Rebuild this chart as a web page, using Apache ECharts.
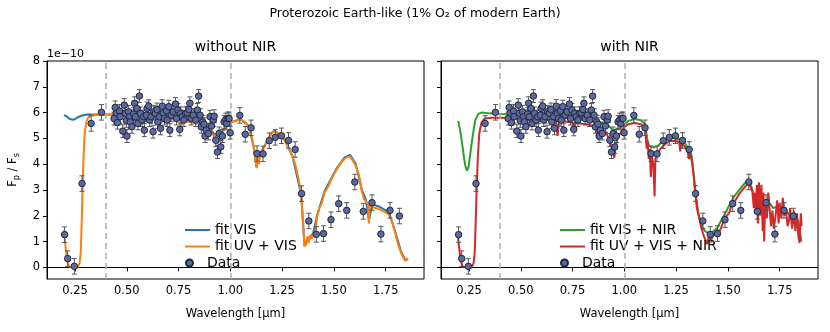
<!DOCTYPE html>
<html>
<head>
<meta charset="utf-8">
<script src="https://cdn.jsdelivr.net/npm/echarts@6/dist/echarts.min.js"></script>
<style>
  html, body { margin: 0; padding: 0; background: #fff; }
  #chart { width: 830px; height: 332px; }
</style>
</head>
<body>
<div id="chart"></div>
<script>
// observed data points: [wavelength um, Fp/Fs (1e-10), error]
const dataPoints = [
  [0.200, 1.27, 0.3], [0.215, 0.34, 0.3], [0.247, 0.04, 0.3], [0.284, 3.25, 0.3],
  [0.328, 5.58, 0.3], [0.378, 6.01, 0.3],
  [0.444, 6.20, 0.25], [0.449, 5.97, 0.25], [0.439, 5.77, 0.25], [0.455, 5.61, 0.25],
  [0.465, 6.06, 0.25], [0.468, 5.84, 0.25], [0.481, 5.28, 0.25], [0.488, 6.29, 0.25],
  [0.493, 5.97, 0.25], [0.498, 5.68, 0.25], [0.501, 5.09, 0.25], [0.509, 6.03, 0.25],
  [0.514, 5.84, 0.25], [0.517, 5.64, 0.25], [0.525, 5.45, 0.25], [0.533, 5.94, 0.25],
  [0.538, 6.36, 0.25], [0.541, 5.84, 0.25], [0.549, 6.16, 0.25], [0.554, 5.58, 0.25],
  [0.561, 6.64, 0.25], [0.566, 5.97, 0.25], [0.574, 5.71, 0.25], [0.582, 5.84, 0.25],
  [0.585, 5.32, 0.25], [0.595, 5.90, 0.25], [0.598, 6.16, 0.25], [0.606, 6.25, 0.25],
  [0.611, 5.71, 0.25], [0.617, 5.84, 0.25], [0.627, 5.26, 0.25], [0.630, 6.03, 0.25],
  [0.638, 5.97, 0.25], [0.646, 6.12, 0.25], [0.650, 5.64, 0.25], [0.659, 5.84, 0.25],
  [0.663, 5.39, 0.25], [0.671, 6.25, 0.25], [0.676, 5.97, 0.25], [0.682, 5.77, 0.25],
  [0.692, 6.07, 0.25], [0.695, 5.71, 0.25], [0.703, 6.23, 0.25], [0.708, 5.32, 0.25],
  [0.714, 5.90, 0.25], [0.724, 6.03, 0.25], [0.735, 6.33, 0.25], [0.740, 5.77, 0.25],
  [0.747, 6.10, 0.25], [0.756, 5.35, 0.25], [0.760, 5.97, 0.25], [0.768, 5.84, 0.25],
  [0.776, 5.71, 0.25], [0.784, 5.97, 0.25], [0.792, 5.99, 0.25], [0.800, 6.12, 0.25],
  [0.805, 6.36, 0.25], [0.811, 5.77, 0.25], [0.821, 5.90, 0.25], [0.833, 5.71, 0.25],
  [0.841, 6.10, 0.25], [0.847, 6.64, 0.25], [0.854, 5.90, 0.25], [0.860, 5.45, 0.25],
  [0.867, 5.64, 0.25], [0.873, 5.55, 0.25], [0.878, 5.09, 0.25], [0.884, 5.32, 0.25],
  [0.894, 5.19, 0.25], [0.902, 5.84, 0.25], [0.909, 5.48, 0.25], [0.918, 5.71, 0.25],
  [0.922, 5.86, 0.25], [0.930, 4.93, 0.25], [0.938, 4.47, 0.25], [0.946, 5.19, 0.25],
  [0.954, 4.67, 0.25], [0.962, 5.09, 0.25], [0.970, 5.64, 0.25], [0.978, 5.73, 0.25],
  [0.983, 5.58, 0.25], [0.989, 5.77, 0.25], [0.994, 5.77, 0.25], [0.999, 5.22, 0.25],
  [1.046, 5.89, 0.3], [1.072, 5.16, 0.3], [1.100, 5.41, 0.3], [1.129, 4.41, 0.3],
  [1.158, 4.40, 0.3], [1.188, 4.91, 0.3], [1.217, 5.04, 0.3], [1.247, 5.10, 0.3],
  [1.281, 4.92, 0.3], [1.313, 4.57, 0.3], [1.344, 2.86, 0.3], [1.379, 1.80, 0.3],
  [1.415, 1.28, 0.3], [1.450, 1.31, 0.3], [1.486, 1.85, 0.3], [1.523, 2.47, 0.3],
  [1.562, 2.21, 0.3], [1.601, 3.31, 0.3], [1.642, 2.17, 0.3], [1.684, 2.51, 0.3],
  [1.727, 1.29, 0.3], [1.771, 2.21, 0.3], [1.816, 1.99, 0.3]
];

// left panel fits
const fitVis = [
  [0.197, 5.90], [0.21, 5.85], [0.225, 5.75], [0.242, 5.72], [0.26, 5.80], [0.28, 5.88],
  [0.31, 5.93], [0.4, 5.93], [0.5, 5.93], [0.6, 5.91], [0.685, 5.80], [0.69, 5.72],
  [0.7, 5.79], [0.76, 5.72], [0.762, 5.47], [0.77, 5.70], [0.85, 5.58], [0.9, 5.46],
  [0.938, 4.80], [0.97, 5.37], [1.0, 5.62], [1.05, 5.74], [1.09, 5.47], [1.115, 4.58],
  [1.127, 3.90], [1.145, 4.42], [1.2, 5.22], [1.215, 5.30], [1.26, 4.97], [1.3, 4.32],
  [1.342, 2.82], [1.358, 0.85], [1.4, 1.33], [1.42, 2.05], [1.455, 2.95], [1.51, 3.80],
  [1.55, 4.25], [1.578, 4.36], [1.605, 4.02], [1.635, 3.00], [1.655, 2.62], [1.669, 1.80],
  [1.685, 2.45], [1.72, 2.35], [1.765, 2.15], [1.795, 1.42], [1.825, 0.60], [1.845, 0.28],
  [1.858, 0.32]
];
const fitUvVis = [
  [0.197, 1.44], [0.205, 0.75], [0.212, 0.25], [0.22, 0.04], [0.24, 0.0], [0.262, 0.0],
  [0.272, 0.15], [0.278, 0.6], [0.283, 1.9], [0.287, 3.2], [0.291, 4.2], [0.297, 5.2],
  [0.305, 5.65], [0.315, 5.82], [0.335, 5.9], [0.4, 5.92], [0.5, 5.92], [0.6, 5.9],
  [0.63, 5.87], [0.66, 5.82], [0.685, 5.78], [0.69, 5.70], [0.695, 5.78], [0.72, 5.74],
  [0.76, 5.70], [0.762, 5.45], [0.766, 5.68], [0.8, 5.64], [0.85, 5.56], [0.88, 5.50],
  [0.9, 5.44], [0.915, 5.25], [0.93, 4.95], [0.938, 4.78], [0.945, 4.90], [0.955, 5.10],
  [0.97, 5.35], [0.985, 5.50], [1.0, 5.60], [1.02, 5.68], [1.05, 5.72], [1.07, 5.65],
  [1.09, 5.45], [1.105, 5.0], [1.115, 4.55], [1.122, 4.1], [1.127, 3.85], [1.132, 4.3],
  [1.138, 4.0], [1.145, 4.4], [1.16, 4.6], [1.18, 4.95], [1.2, 5.2], [1.215, 5.27],
  [1.235, 5.2], [1.26, 4.95], [1.28, 4.65], [1.3, 4.3], [1.315, 3.95], [1.33, 3.4],
  [1.342, 2.8], [1.35, 1.9], [1.355, 1.2], [1.358, 0.8], [1.362, 1.05], [1.366, 0.85],
  [1.372, 1.2], [1.378, 0.95], [1.385, 1.25], [1.392, 1.1], [1.4, 1.3], [1.41, 1.4],
  [1.42, 2.0], [1.43, 2.3], [1.44, 2.45], [1.455, 2.9], [1.47, 3.1], [1.49, 3.45],
  [1.51, 3.75], [1.53, 4.0], [1.55, 4.2], [1.565, 4.28], [1.578, 4.3], [1.59, 4.15],
  [1.605, 3.95], [1.62, 3.6], [1.635, 2.95], [1.645, 2.65], [1.655, 2.55], [1.665, 2.45],
  [1.669, 1.7], [1.673, 2.4], [1.685, 2.35], [1.7, 2.3], [1.72, 2.25], [1.745, 2.15],
  [1.765, 2.05], [1.78, 1.8], [1.795, 1.35], [1.81, 0.9], [1.825, 0.55], [1.838, 0.33],
  [1.845, 0.25], [1.852, 0.35], [1.858, 0.3]
];

// right panel fits
const fitVisNir = [
  [0.198, 5.68], [0.21, 5.2], [0.222, 4.5], [0.232, 3.95], [0.24, 3.75], [0.248, 3.9],
  [0.258, 4.5], [0.268, 5.1], [0.28, 5.7], [0.295, 5.95], [0.31, 6.0], [0.35, 5.97],
  [0.4, 5.95], [0.5, 5.93], [0.6, 5.9], [0.685, 5.82], [0.69, 5.75], [0.7, 5.85],
  [0.758, 5.78], [0.762, 5.6], [0.77, 5.8], [0.85, 5.68], [0.9, 5.6], [0.93, 5.45],
  [0.945, 5.3], [0.96, 5.35], [0.98, 5.4], [1.0, 5.55], [1.02, 5.68], [1.05, 5.75],
  [1.08, 5.7], [1.1, 5.55], [1.11, 5.0], [1.12, 4.7], [1.14, 4.65], [1.16, 4.7],
  [1.18, 4.85], [1.2, 4.95], [1.23, 5.02], [1.26, 4.98], [1.29, 4.85], [1.31, 4.6],
  [1.325, 4.35], [1.335, 3.6], [1.345, 2.8], [1.36, 2.0], [1.375, 1.6], [1.39, 1.4],
  [1.41, 1.3], [1.43, 1.4], [1.45, 1.55], [1.47, 1.85], [1.5, 2.3], [1.53, 2.75],
  [1.56, 3.05], [1.585, 3.3], [1.6, 3.35], [1.615, 3.1], [1.63, 2.6], [1.65, 2.5],
  [1.67, 2.45], [1.7, 2.5], [1.72, 2.3], [1.75, 2.4], [1.78, 2.2], [1.8, 2.0],
  [1.82, 2.05], [1.84, 1.8], [1.855, 1.0]
];
const fitUvVisNir = [
  [0.197, 1.2], [0.205, 0.6], [0.212, 0.2], [0.22, 0.03], [0.24, 0.0], [0.262, 0.0],
  [0.272, 0.15], [0.278, 0.6], [0.283, 1.9], [0.288, 3.2], [0.293, 4.3], [0.3, 5.2],
  [0.31, 5.6], [0.325, 5.77], [0.36, 5.8], [0.4, 5.8], [0.45, 5.78], [0.5, 5.76],
  [0.55, 5.74], [0.6, 5.72], [0.67, 5.7], [0.678, 5.1], [0.685, 5.68], [0.75, 5.62],
  [0.757, 5.3], [0.764, 5.6], [0.82, 5.55], [0.86, 5.45], [0.875, 4.95], [0.885, 5.35],
  [0.91, 5.25], [0.925, 5.0], [0.935, 4.75], [0.945, 4.5], [0.952, 4.25], [0.958, 4.7],
  [0.97, 5.05], [0.985, 5.25], [1.0, 5.45], [1.02, 5.55], [1.05, 5.6], [1.08, 5.55],
  [1.1, 5.4], [1.108, 4.6], [1.112, 4.9], [1.118, 4.2], [1.123, 4.6], [1.128, 3.5],
  [1.133, 4.3], [1.14, 4.0], [1.146, 2.75], [1.15, 4.2], [1.16, 4.45], [1.18, 4.65],
  [1.2, 4.8], [1.22, 4.9], [1.25, 4.9], [1.265, 4.85], [1.27, 4.5], [1.275, 4.85],
  [1.29, 4.7], [1.305, 4.5], [1.312, 4.2], [1.318, 4.45], [1.328, 4.0], [1.336, 3.45],
  [1.342, 2.9], [1.35, 2.3], [1.36, 1.95], [1.37, 1.6], [1.38, 1.3], [1.39, 1.1],
  [1.4, 0.9], [1.408, 1.2], [1.418, 1.05], [1.43, 1.25], [1.44, 1.35], [1.45, 1.45],
  [1.46, 1.4], [1.475, 1.7], [1.49, 1.95], [1.505, 2.1], [1.52, 2.45], [1.54, 2.65],
  [1.555, 2.85], [1.57, 3.0], [1.585, 3.15], [1.6, 3.25], [1.61, 3.1], [1.618, 2.95],
  [1.625, 2.3], [1.63, 2.9], [1.635, 2.2], [1.64, 3.2], [1.645, 1.7], [1.65, 3.3],
  [1.656, 2.0], [1.662, 3.2], [1.668, 1.4], [1.672, 2.9], [1.675, 1.0], [1.68, 2.5],
  [1.688, 1.9], [1.695, 2.9], [1.7, 2.4], [1.708, 1.6], [1.715, 2.2], [1.722, 1.5],
  [1.73, 2.0], [1.738, 2.6], [1.745, 1.7], [1.75, 2.5], [1.758, 1.9], [1.765, 2.7],
  [1.772, 2.0], [1.78, 2.3], [1.788, 1.6], [1.795, 1.8], [1.8, 2.3], [1.81, 1.5],
  [1.818, 2.2], [1.826, 1.4], [1.834, 2.1], [1.84, 1.2], [1.846, 0.95], [1.852, 2.1],
  [1.856, 1.6]
];

const xTicks = [0.25, 0.5, 0.75, 1.0, 1.25, 1.5, 1.75];
const yTicks = [0, 1, 2, 3, 4, 5, 6, 7, 8];
const bandEdges = [0.4, 1.0];

const FONT = "DejaVu Sans";
const chart = echarts.init(document.getElementById("chart"));

function errorBars(params, api) {
  const x = api.value(0), y = api.value(1), e = api.value(2);
  const top = api.coord([x, y + e]);
  const bot = api.coord([x, y - e]);
  const cw = 2.5;
  const st = { stroke: "#555", lineWidth: 1 };
  return {
    type: "group",
    children: [
      { type: "line", shape: { x1: top[0], y1: top[1], x2: bot[0], y2: bot[1] }, style: st },
      { type: "line", shape: { x1: top[0] - cw, y1: top[1], x2: top[0] + cw, y2: top[1] }, style: st },
      { type: "line", shape: { x1: bot[0] - cw, y1: bot[1], x2: bot[0] + cw, y2: bot[1] }, style: st }
    ]
  };
}

function xAxisFor(i) {
  return {
    type: "value", gridIndex: i, min: 0.115, max: 1.935,
    name: "Wavelength [μm]", nameLocation: "middle", nameGap: 29,
    nameTextStyle: { fontFamily: FONT, fontSize: 11.5, color: "#000" },
    axisLine: { show: true, lineStyle: { color: "#000", width: 1 } },
    axisTick: { show: true, length: 4, customValues: xTicks, lineStyle: { color: "#000" } },
    axisLabel: { customValues: xTicks, fontFamily: FONT, fontSize: 11.5, color: "#000", margin: 6,
      formatter: v => v.toFixed(2) },
    splitLine: { show: false }
  };
}

function yAxisFor(i) {
  return {
    type: "value", gridIndex: i, min: -0.45, max: 8,
    name: i === 0 ? "{a|F}{s|p}{a| / F}{s|s}" : "",
    nameLocation: "middle", nameGap: 26,
    nameTextStyle: { fontFamily: FONT, color: "#000",
      rich: { a: { fontFamily: FONT, fontSize: 11.5, color: "#000" },
              s: { fontFamily: FONT, fontSize: 8, color: "#000", padding: [7, 0, 0, 0] } } },
    axisLine: { show: true, lineStyle: { color: "#000", width: 1 } },
    axisTick: { show: true, length: 4, customValues: yTicks, lineStyle: { color: "#000" } },
    axisLabel: { show: i === 0, customValues: yTicks, fontFamily: FONT, fontSize: 11.5, color: "#000", margin: 7 },
    splitLine: { show: false }
  };
}

function fitLine(name, data, color, i, z) {
  return {
    name, type: "line", data, xAxisIndex: i, yAxisIndex: i,
    showSymbol: false, symbol: "none", z,
    lineStyle: { color, width: 2 }, itemStyle: { color }
  };
}

function bandMarks(i) {
  return {
    type: "line", xAxisIndex: i, yAxisIndex: i, data: [], z: 1, silent: true,
    markLine: {
      silent: true, symbol: ["none", "none"], label: { show: false },
      lineStyle: { color: "#b0b0b0", type: [6, 4], width: 1.5 },
      data: bandEdges.map(v => ({ xAxis: v }))
    }
  };
}

function dataSeries(i) {
  return [
    { type: "custom", xAxisIndex: i, yAxisIndex: i, data: dataPoints, renderItem: errorBars,
      encode: { x: 0, y: 1 }, z: 5, silent: true },
    { name: "Data", type: "scatter", xAxisIndex: i, yAxisIndex: i, data: dataPoints.map(p => [p[0], p[1]]),
      symbolSize: 6.5, z: 6,
      itemStyle: { color: "#5a69a0", borderColor: "#22263a", borderWidth: 1, opacity: 1 } }
  ];
}

const legendText = { fontFamily: FONT, fontSize: 14, color: "#000" };

const option = {
  animation: false,
  backgroundColor: "#fff",
  title: [
    { text: "Proterozoic Earth-like (1% O₂ of modern Earth)", left: 415, top: 7, padding: 0, textAlign: "center",
      textStyle: { fontFamily: FONT, fontSize: 12.5, fontWeight: "normal", color: "#000" } },
    { text: "without NIR", left: 235.5, top: 40, padding: 0, textAlign: "center",
      textStyle: { fontFamily: FONT, fontSize: 14, fontWeight: "normal", color: "#000" } },
    { text: "with NIR", left: 629.5, top: 40, padding: 0, textAlign: "center",
      textStyle: { fontFamily: FONT, fontSize: 14, fontWeight: "normal", color: "#000" } }
  ],
  graphic: [
    { type: "text", left: 47, top: 49, style: { text: "1e−10", fontFamily: FONT, fontSize: 11, fill: "#000" } }
  ],
  grid: [
    { left: 47, top: 61, width: 377, height: 218, show: true, borderColor: "#000", borderWidth: 1, backgroundColor: "transparent" },
    { left: 441, top: 61, width: 377, height: 218, show: true, borderColor: "#000", borderWidth: 1, backgroundColor: "transparent" }
  ],
  xAxis: [xAxisFor(0), xAxisFor(1)],
  yAxis: [yAxisFor(0), yAxisFor(1)],
  legend: [
    { data: [{ name: "fit VIS", icon: "rect" }, { name: "fit UV + VIS", icon: "rect" }],
      orient: "vertical", left: 185, top: 223, padding: 0, itemWidth: 25, itemHeight: 2, itemGap: 2.5,
      textStyle: legendText, selectedMode: false },
    { data: [{ name: "Data", icon: "circle" }], orient: "vertical", left: 185, top: 256, padding: 0,
      itemWidth: 25, itemHeight: 7, textStyle: legendText, selectedMode: false },
    { data: [{ name: "fit VIS + NIR", icon: "rect" }, { name: "fit UV + VIS + NIR", icon: "rect" }],
      orient: "vertical", left: 560, top: 223, padding: 0, itemWidth: 25, itemHeight: 2, itemGap: 2.5,
      textStyle: legendText, selectedMode: false },
    { data: [{ name: "Data", icon: "circle" }], orient: "vertical", left: 560, top: 256, padding: 0,
      itemWidth: 25, itemHeight: 7, textStyle: legendText, selectedMode: false }
  ],
  series: [
    bandMarks(0),
    fitLine("fit VIS", fitVis, "#1f77b4", 0, 2),
    fitLine("fit UV + VIS", fitUvVis, "#ff7f0e", 0, 3),
    ...dataSeries(0),
    bandMarks(1),
    fitLine("fit VIS + NIR", fitVisNir, "#2ca02c", 1, 2),
    fitLine("fit UV + VIS + NIR", fitUvVisNir, "#d62728", 1, 3),
    ...dataSeries(1)
  ]
};

chart.setOption(option);
</script>
</body>
</html>
